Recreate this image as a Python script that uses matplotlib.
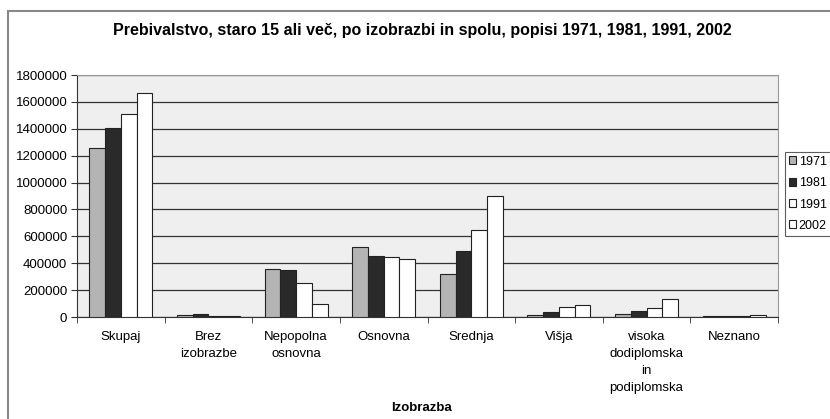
import numpy as np
import matplotlib.pyplot as plt
from matplotlib.patches import Rectangle

plt.rcParams['font.family'] = ['Liberation Sans', 'DejaVu Sans']

categories = ['Skupaj', 'Brez\nizobrazbe', 'Nepopolna\nosnovna', 'Osnovna', 'Srednja',
              'Višja', 'visoka\ndodiplomska\nin\npodiplomska', 'Neznano']
years = ['1971', '1981', '1991', '2002']
v1971 = [1258000, 15000, 357000, 519000, 318000, 15000, 25000, 4000]
v1981 = [1407000, 20000, 350000, 457000, 489000, 37000, 47000, 4000]
v1991 = [1507000, 5000, 256000, 448000, 650000, 72000, 65000, 4000]
v2002 = [1663000, 5000, 100000, 433000, 899000, 87000, 134000, 15000]
series = [v1971, v1981, v1991, v2002]
colors = ['#b4b4b4', '#2a2a2a', '#ffffff', '#ffffff']

fig = plt.figure(figsize=(8.3, 4.19), dpi=100)
ax = fig.add_axes([77/830, 1 - 317/419, (778-77)/830, (317-75)/419])
ax.set_facecolor('#efefef')

x = np.arange(len(categories))
w = 0.18
for i, (vals, c) in enumerate(zip(series, colors)):
    ax.bar(x + (i - 1.5) * w, vals, w, color=c, edgecolor='#222222', linewidth=0.8,
           label=years[i], zorder=3)

ax.set_xlim(-0.5, len(categories) - 0.5)
ax.set_ylim(0, 1800000)
ax.set_yticks(np.arange(0, 1800001, 200000))
ax.set_yticklabels([str(v) for v in range(0, 1800001, 200000)], fontsize=9.5)
ax.yaxis.grid(True, color='#333333', linewidth=0.9, zorder=0)
ax.set_axisbelow(True)

ax.set_xticks(x)
ax.set_xticklabels(categories, fontsize=9.5, linespacing=1.55)
ax.tick_params(axis='x', length=0, pad=10)
ax.set_xticks(np.arange(-0.5, len(categories), 1), minor=True)
ax.tick_params(axis='x', which='minor', length=4, color='#333333')
ax.tick_params(axis='y', length=4, color='#333333', pad=3)

for s in ['top', 'right']:
    ax.spines[s].set_color('#999999')
    ax.spines[s].set_linewidth(0.8)
for s in ['left', 'bottom']:
    ax.spines[s].set_color('#333333')
    ax.spines[s].set_linewidth(0.8)

fig.text(422/830, 1 - 30/419, 'Prebivalstvo, staro 15 ali več, po izobrazbi in spolu, popisi 1971, 1981, 1991, 2002',
         ha='center', va='center', fontsize=11.5, fontweight='bold')
fig.text(421/830, 1 - 408/419, 'Izobrazba', ha='center', va='center', fontsize=9.5, fontweight='bold')

leg = fig.legend(loc='upper left', bbox_to_anchor=(785/830, 1 - 152/419), fontsize=9,
                 frameon=True, fancybox=False, edgecolor='#333333', handlelength=0.6,
                 handleheight=0.6, handletextpad=0.2, labelspacing=0.75, borderpad=0.3,
                 borderaxespad=0)
leg.get_frame().set_linewidth(0.8)

fig.patches.append(Rectangle((8/830, -0.1), 1.0, 1 - 11/419 + 0.1, transform=fig.transFigure,
                             fill=False, edgecolor='#888888', linewidth=1.5))

fig.savefig('out.png', dpi=100)
